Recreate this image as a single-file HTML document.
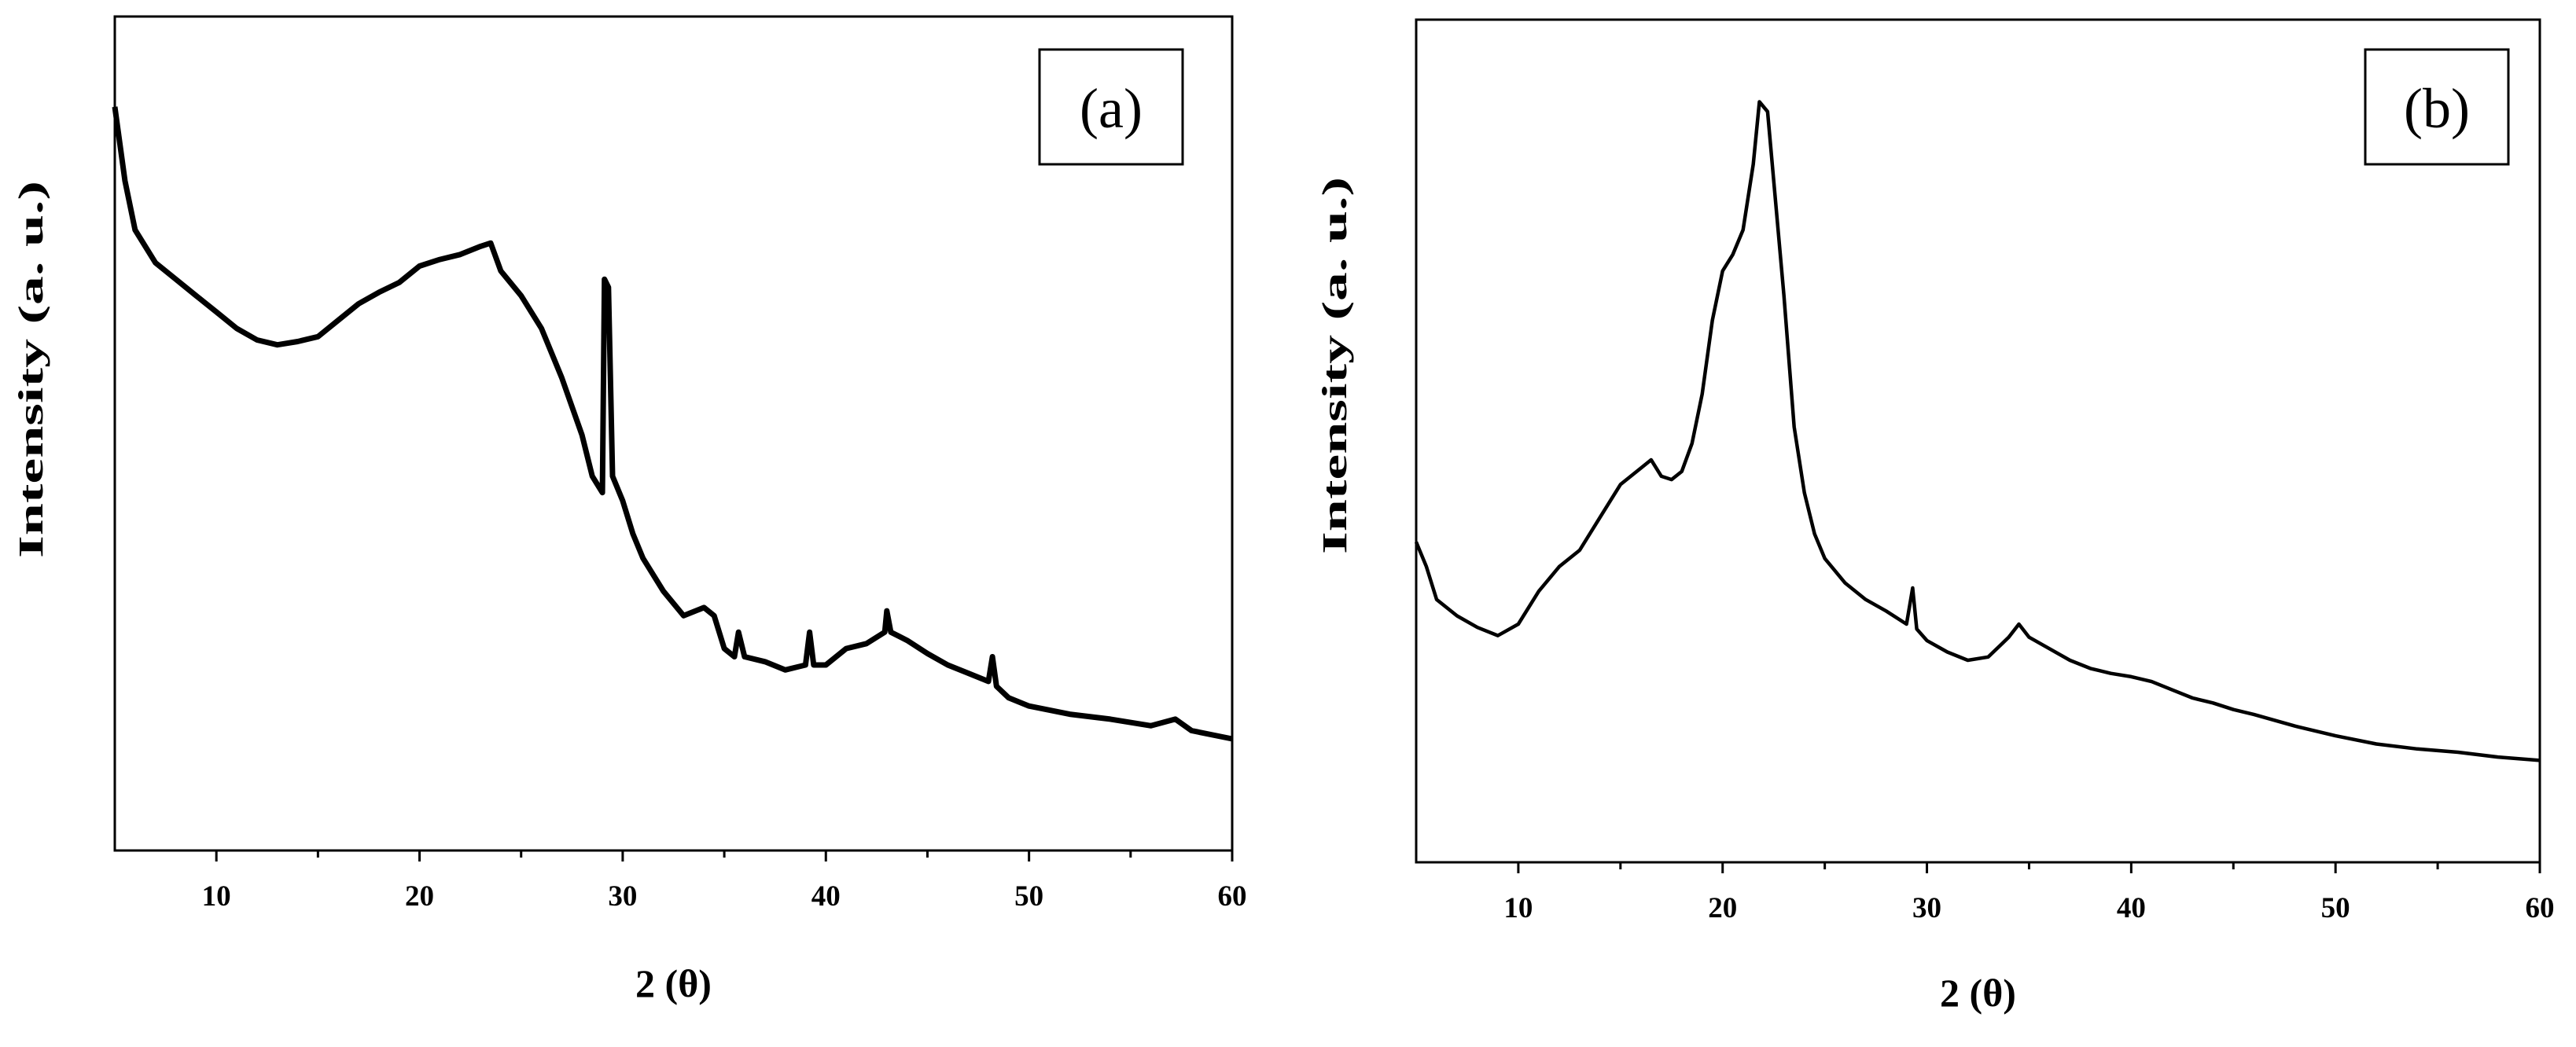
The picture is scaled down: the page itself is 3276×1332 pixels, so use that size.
<!DOCTYPE html>
<html><head><meta charset="utf-8"><style>
html,body{margin:0;padding:0;background:#fff;}
svg{display:block;font-family:"Liberation Serif",serif;}
</style></head><body>
<svg id="fig" width="3276" height="1332" viewBox="0 0 3276 1332"></svg>
<script>
// Panel (a) data: 2θ and relative intensity
const thetaA = [5,5.5,6,7,8,9,10,11,12,13,14,15,16,17,18,19,20,21,22,23,23.5,24,25,26,27,28,28.5,29,29.1,29.3,29.5,30,30.5,31,32,33,34,34.5,35,35.5,35.7,36,37,38,39,39.2,39.4,40,41,42,42.9,43,43.2,44,45,46,47,48,48.2,48.4,49,50,52,54,56,57.2,58,60];
const intensityA = [453,408,378,358,348,338,328,318,311,308,310,313,323,333,340,346,356,360,363,368,370,353,338,318,288,253,228,218,348,343,228,213,193,178,158,143,148,143,123,118,133,118,115,110,113,133,113,113,123,126,133,146,133,128,120,113,108,103,118,100,93,88,83,80,76,80,73,68];
// Panel (b) data
const thetaB = [5,5.5,6,7,8,9,10,11,12,13,14,15,16,16.5,17,17.5,18,18.5,19,19.5,20,20.5,21,21.5,21.8,22.2,22.5,23,23.5,24,24.5,25,26,27,28,29,29.3,29.5,30,31,32,33,34,34.5,35,36,37,38,39,40,41,42,43,44,45,46,48,50,52,54,56,58,60];
const intensityB = [195,180,160,150,143,138,145,165,180,190,210,230,240,245,235,233,238,255,285,330,360,370,385,425,463,457,415,345,265,225,200,185,170,160,153,145,167,142,135,128,123,125,137,145,137,130,123,118,115,113,110,105,100,97,93,90,83,77,72,69,67,64,62];
const xTicks = [10,20,30,40,50,60];
const xMinor = [15,25,35,45,55];

const NS="http://www.w3.org/2000/svg";
const svg=document.getElementById('fig');
function mk(tag,attrs,parent){const e=document.createElementNS(NS,tag);for(const k in attrs)e.setAttribute(k,attrs[k]);(parent||svg).appendChild(e);return e;}

function panel(cfg){
  const g=mk('g',{});
  
  
  const xs=v=>cfg.L+(v-5)/(60-5)*(cfg.R-cfg.L);
  const ys=v=>cfg.B-v/cfg.ymax*(cfg.B-cfg.T);
  const frame=mk('rect',{x:cfg.L,y:cfg.T,width:cfg.R-cfg.L,height:cfg.B-cfg.T,fill:'none',stroke:'#000','stroke-width':3},g);
  
  
  xTicks.forEach(t=>{
    const l=mk('line',{x1:xs(t),x2:xs(t),y1:cfg.B,y2:cfg.B+14,stroke:'#000','stroke-width':3},g);
    
    
    const tx=mk('text',{x:xs(t),y:cfg.B+70,'text-anchor':'middle','font-size':37,'font-weight':'bold'},g);
    tx.textContent=t;
    
    
  });
  xMinor.forEach(t=>{
    const l=mk('line',{x1:xs(t),x2:xs(t),y1:cfg.B,y2:cfg.B+9,stroke:'#000','stroke-width':3},g);
    
    
  });
  let d='';
  cfg.xv.forEach((x,i)=>{d+=(i?'L':'M')+xs(x).toFixed(1)+' '+ys(cfg.yv[i]).toFixed(1);});
  const p=mk('path',{d:d,fill:'none',stroke:'#000','stroke-width':cfg.sw,'stroke-linejoin':'round'},g);
  
  
  const xt=mk('text',{x:(cfg.L+cfg.R)/2,y:cfg.xtY,'text-anchor':'middle','font-size':50,'font-weight':'bold'},g);
  xt.textContent='2 (θ)';
  
  
  const yt=mk('text',{x:0,y:0,transform:`translate(${cfg.ytX},${cfg.ytY}) rotate(-90)`,'text-anchor':'middle','font-size':44,'font-weight':'bold',textLength:480,lengthAdjust:'spacingAndGlyphs'},g);
  yt.textContent='Intensity (a. u.)';
  
  
  const bx=mk('rect',{x:cfg.bx,y:63,width:182,height:146,fill:'#fff',stroke:'#000','stroke-width':3},g);
  
  
  const bt=mk('text',{x:cfg.bx+91,y:162,'text-anchor':'middle','font-size':72},g);
  bt.textContent=cfg.label;
  
  
}
panel({name:'panel-a',L:146,R:1567,T:21,B:1082,ymax:508,xv:thetaA,yv:intensityA,sw:7,xtY:1268,ytX:54,ytY:470,bx:1322,label:'(a)'});
panel({name:'panel-b',L:1801,R:3230,T:25,B:1097,ymax:513,xv:thetaB,yv:intensityB,sw:4.5,xtY:1280,ytX:1712,ytY:465,bx:3008,label:'(b)'});
</script>
</body></html>
